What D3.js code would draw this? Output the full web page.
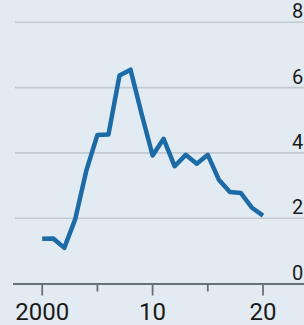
<!DOCTYPE html>
<html>
<head>
<meta charset="utf-8">
<script src="https://cdn.jsdelivr.net/npm/d3@7"></script>
<style>
  body { margin: 0; background: #e3ebf2; }
  svg { display: block; }
  text { font-family: "Liberation Sans Narrow", "Roboto", sans-serif; fill: #1a1a1a; }
</style>
</head>
<body>
<div id="chart"></div>
<script>
var years = [2000, 2001, 2002, 2003, 2004, 2005, 2006, 2007, 2008, 2009, 2010,
  2011, 2012, 2013, 2014, 2015, 2016, 2017, 2018, 2019, 2020];
var values = [1.37, 1.38, 1.09, 1.98, 3.46, 4.55, 4.56, 6.37, 6.55, 5.2, 3.92,
  4.43, 3.59, 3.94, 3.67, 3.94, 3.18, 2.8, 2.77, 2.32, 2.08];
var yTicks = [0, 2, 4, 6, 8];
var xMajor = [2000, 2010, 2020];
var xMinor = [2005, 2015];
var xLabels = ["2000", "10", "20"];

var width = 304;
var height = 325;

var data = years.map((y, i) => ({ x: y, y: values[i] }));

var xScale = d3.scaleLinear().domain([2000, 2020]).range([42.2, 263]);
var yScale = d3.scaleLinear().domain([0, 8]).range([283.5, 22.3]);

var svg = d3
  .select("#chart")
  .append("svg")
  .attr("width", width)
  .attr("height", height);

svg.append("rect")
  .attr("width", width)
  .attr("height", height)
  .attr("fill", "#e3ebf2");

// gridlines + labels on the right
var grid = svg.append("g").attr("class", "grid");
grid.selectAll("line")
  .data(yTicks.filter(d => d > 0))
  .join("line")
  .attr("x1", 15)
  .attr("x2", width)
  .attr("y1", d => yScale(d))
  .attr("y2", d => yScale(d))
  .attr("stroke", "#c3cacf")
  .attr("stroke-width", 1.6);

grid.selectAll("text")
  .data(yTicks)
  .join("text")
  .attr("x", 292)
  .attr("y", d => yScale(d) - 4)
  .attr("font-size", 20)
  .text(d => d);

// x axis
var xAxis = svg.append("g").attr("class", "x axis");
xAxis.append("line")
  .attr("x1", 13)
  .attr("x2", width)
  .attr("y1", yScale(0) + 0.5)
  .attr("y2", yScale(0) + 0.5)
  .attr("stroke", "#6b6f72")
  .attr("stroke-width", 2.2);

xAxis.selectAll(".major")
  .data(xMajor)
  .join("line")
  .attr("class", "major")
  .attr("x1", d => xScale(d))
  .attr("x2", d => xScale(d))
  .attr("y1", yScale(0))
  .attr("y2", yScale(0) + 12)
  .attr("stroke", "#6b6f72")
  .attr("stroke-width", 1.8);

xAxis.selectAll(".minor")
  .data(xMinor)
  .join("line")
  .attr("class", "minor")
  .attr("x1", d => xScale(d))
  .attr("x2", d => xScale(d))
  .attr("y1", yScale(0))
  .attr("y2", yScale(0) + 8)
  .attr("stroke", "#6b6f72")
  .attr("stroke-width", 1.8);

xAxis.selectAll("text")
  .data(xMajor)
  .join("text")
  .attr("x", d => xScale(d))
  .attr("y", 319.5)
  .attr("text-anchor", "middle")
  .attr("font-size", 24)
  .text((d, i) => xLabels[i]);

// the line
var line = d3
  .line()
  .x((d) => xScale(d.x))
  .y((d) => yScale(d.y));

svg.append("path")
  .datum(data)
  .attr("class", "line")
  .attr("fill", "none")
  .attr("stroke", "#1c6ba6")
  .attr("stroke-width", 4.5)
  .attr("stroke-linejoin", "round")
  .attr("d", line);
</script>
</body>
</html>
